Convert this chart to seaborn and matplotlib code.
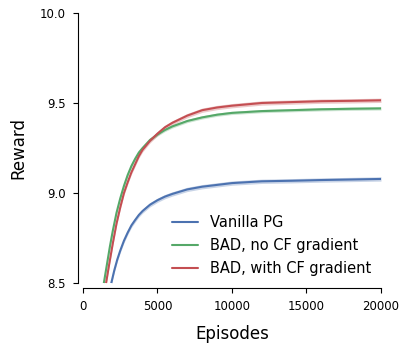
import matplotlib
matplotlib.use("Agg")
import matplotlib.pyplot as plt
import numpy as np
import seaborn as sns
import pandas as pd

# readings (episodes, mean reward)
vanilla_ep = [1900, 2100, 2300, 2500, 2750, 3000, 3250, 3500, 3750, 4000, 4500, 5000, 5500,
              6000, 7000, 8000, 9000, 10000, 12000, 14000, 16000, 18000, 20000]
vanilla_r = [8.50, 8.57, 8.63, 8.68, 8.735, 8.78, 8.82, 8.85, 8.878, 8.90, 8.935, 8.96, 8.98,
             8.995, 9.02, 9.035, 9.045, 9.055, 9.065, 9.068, 9.072, 9.075, 9.078]

nocf_ep = [1400, 1600, 1800, 2000, 2250, 2500, 2750, 3000, 3250, 3500, 3750, 4000, 4500, 5000,
           5500, 6000, 7000, 8000, 9000, 10000, 12000, 14000, 16000, 18000, 20000]
nocf_r = [8.50, 8.60, 8.70, 8.79, 8.89, 8.97, 9.04, 9.10, 9.15, 9.19, 9.225, 9.25, 9.295, 9.325,
          9.35, 9.37, 9.40, 9.42, 9.435, 9.445, 9.455, 9.46, 9.465, 9.468, 9.47]

cf_ep = [1550, 1750, 2000, 2250, 2500, 2750, 3000, 3250, 3500, 3750, 4000, 4500, 5000, 5500,
         6000, 7000, 8000, 9000, 10000, 12000, 14000, 16000, 18000, 20000]
cf_r = [8.50, 8.60, 8.72, 8.83, 8.92, 9.00, 9.06, 9.115, 9.16, 9.205, 9.24, 9.29, 9.33, 9.365,
        9.39, 9.43, 9.46, 9.475, 9.485, 9.50, 9.505, 9.51, 9.512, 9.515]

labels = ["Vanilla PG", "BAD, no CF gradient", "BAD, with CF gradient"]
spread = [0.012, 0.009, 0.012]  # half-width of shaded band
colors = ["#4C72B0", "#55A868", "#C44E52"]

frames = []
for lab, ep, r in zip(labels, [vanilla_ep, nocf_ep, cf_ep], [vanilla_r, nocf_r, cf_r]):
    frames.append(pd.DataFrame({"Episodes": ep, "Reward": r, "method": lab}))
df = pd.concat(frames)

sns.set_style("ticks", {"axes.edgecolor": "black", "xtick.color": "black",
                        "ytick.color": "black", "text.color": "black",
                        "axes.labelcolor": "black"})
fig = plt.figure(figsize=(4.06, 3.49), dpi=100)
ax = fig.add_axes([0.2044, 0.1891, 0.734, 0.7737])

for lab, s, c in zip(labels, spread, colors):
    d = df[df.method == lab]
    ax.fill_between(d.Episodes, d.Reward - s, d.Reward + s, color=c, alpha=0.3, lw=0)
sns.lineplot(data=df, x="Episodes", y="Reward", hue="method", palette=colors,
             hue_order=labels, ax=ax, lw=1.5)

ax.set_xlim(0, 20000)
ax.set_ylim(8.5, 10.0)
ax.set_xticks([0, 5000, 10000, 15000, 20000])
ax.set_yticks([8.5, 9.0, 9.5, 10.0])
ax.tick_params(labelsize=8.5, length=3.5, pad=5.5)
ax.set_xlabel("Episodes", fontsize=12, labelpad=8.5)
ax.set_ylabel("Reward", fontsize=12, labelpad=9)
ax.legend(title=None, frameon=False, fontsize=10.5, loc="lower right",
          bbox_to_anchor=(1.01, -0.022), handlelength=1.8, labelspacing=0.55)
sns.despine(ax=ax, offset=3.5)

fig.savefig("out.png", dpi=100)
